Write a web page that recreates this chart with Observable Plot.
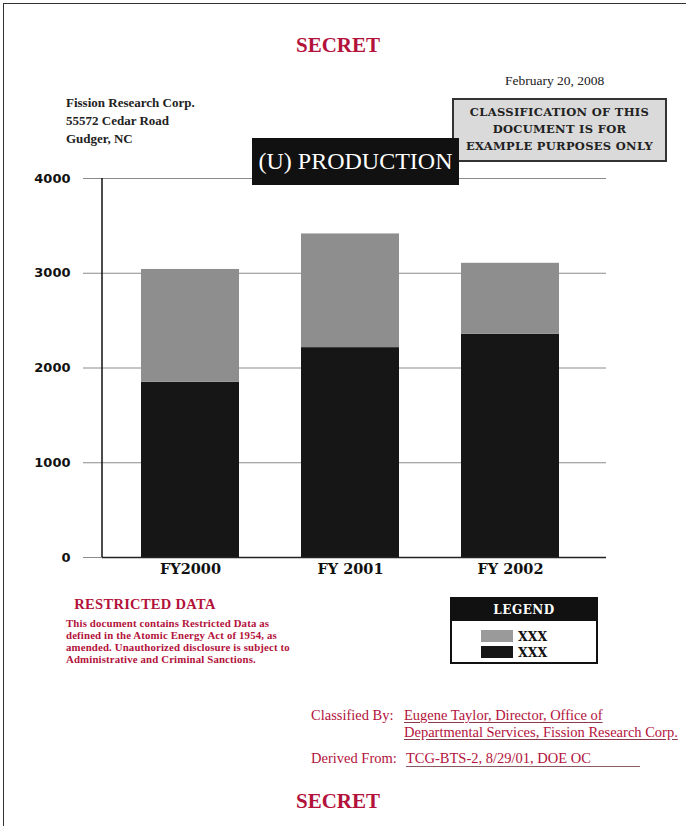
<!DOCTYPE html>
<html>
<head>
<meta charset="utf-8">
<script src="https://cdn.jsdelivr.net/npm/d3@7"></script>
<script src="https://cdn.jsdelivr.net/npm/@observablehq/plot@0.6"></script>
<style>
  html, body { margin: 0; padding: 0; background: #fff; }
  #page { position: relative; width: 686px; height: 826px; overflow: hidden; background: #fff;
          font-family: "Liberation Serif", "Times New Roman", serif; }
  .abs { position: absolute; }
  .red { color: #b3123b; }
  #chart { position: absolute; left: 0; top: 150px; }
  .underline { text-decoration: underline; text-decoration-color: #8a3a4a; text-underline-offset: 2px; }
</style>
</head>
<body>
<div id="page">
  <div class="abs" style="left:3px;top:3px;width:683px;height:0;border-top:1.5px solid #333;"></div>
  <div class="abs" style="left:3px;top:3px;width:0;height:823px;border-left:1.5px solid #333;"></div>

  <div id="chart"></div>

  <div class="abs red" style="left:0;width:676px;top:33px;text-align:center;font-weight:bold;font-size:21px;">SECRET</div>
  <div class="abs" style="left:505px;top:73px;font-size:13.5px;color:#222;">February 20, 2008</div>
  <div class="abs" style="left:66px;top:94px;font-size:13px;font-weight:bold;line-height:18px;color:#222;">Fission Research Corp.<br>55572 Cedar Road<br>Gudger, NC</div>

  <div class="abs" style="left:452px;top:98px;width:211px;height:56px;background:#dadada;border:2px solid #333;
       font-family:'DejaVu Serif',serif;font-weight:bold;font-size:11.5px;line-height:17px;text-align:center;
       padding-top:4px;box-sizing:content-box;color:#222;letter-spacing:0.3px;">
    CLASSIFICATION OF THIS<br>DOCUMENT IS FOR<br>EXAMPLE PURPOSES ONLY</div>

  <div class="abs" style="left:252px;top:138px;width:207px;height:47px;background:#111;color:#fff;
       font-size:24px;line-height:47px;text-align:center;">(U) PRODUCTION</div>

  <div class="abs red" style="left:40px;width:210px;top:596px;text-align:center;font-weight:bold;font-size:14.5px;letter-spacing:0.3px;">RESTRICTED DATA</div>
  <div class="abs red" style="left:66px;top:617px;font-weight:bold;font-size:10.8px;line-height:12px;white-space:nowrap;letter-spacing:0.15px;">
    This document contains Restricted Data as<br>defined in the Atomic Energy Act of 1954, as<br>amended. Unauthorized disclosure is subject to<br>Administrative and Criminal Sanctions.</div>

  <div id="legend" class="abs" style="left:450px;top:597px;width:144px;height:63px;border:2px solid #111;background:#fff;"></div>

  <div class="abs red" style="left:311px;top:707px;font-size:14.5px;line-height:17px;white-space:nowrap;">Classified By:</div>
  <div class="abs red" style="left:404px;top:707px;font-size:14.5px;line-height:17px;white-space:nowrap;">
    <span class="underline">Eugene Taylor, Director, Office of</span><br>
    <span class="underline">Departmental Services, Fission Research Corp.</span></div>
  <div class="abs red" style="left:311px;top:750px;font-size:14.5px;line-height:17px;white-space:nowrap;">Derived From:</div>
  <div class="abs red" style="left:406px;top:750px;font-size:14.5px;line-height:17px;white-space:nowrap;width:234px;border-bottom:1px solid #8a5a64;height:16px;">TCG-BTS-2, 8/29/01, DOE OC</div>

  <div class="abs red" style="left:0;width:676px;top:789px;text-align:center;font-weight:bold;font-size:21px;">SECRET</div>
</div>

<script>
// ---- data ----
const categories = ["FY2000", "FY 2001", "FY 2002"];
const seriesKeys = ["lower", "upper"];
const legendLabels = ["XXX", "XXX"];
const lowerValues = [1850, 2215, 2355];
const upperValues = [1190, 1200, 750];
const yTicks = [0, 1000, 2000, 3000, 4000];
const seriesColors = ["#161616", "#8e8e8e"];

// long table for stacking (lower series first → bottom of stack)
const rows = [];
categories.forEach((c, i) => rows.push({cat: c, series: seriesKeys[0], value: lowerValues[i]}));
categories.forEach((c, i) => rows.push({cat: c, series: seriesKeys[1], value: upperValues[i]}));

function yAxisLine(index, scales, values, dims) {
  const d = [...arguments].find(a => a && typeof a === "object" && "marginLeft" in a);
  const ns = "http://www.w3.org/2000/svg";
  const g = document.createElementNS(ns, "g");
  const l = document.createElementNS(ns, "line");
  l.setAttribute("x1", d.marginLeft);
  l.setAttribute("x2", d.marginLeft);
  l.setAttribute("y1", d.marginTop);
  l.setAttribute("y2", d.height - d.marginBottom);
  l.setAttribute("stroke", "#111");
  l.setAttribute("stroke-width", 1.5);
  g.appendChild(l);
  return g;
}

const chart = Plot.plot({
  width: 686,
  height: 440,
  marginTop: 28,
  marginBottom: 33,
  marginLeft: 102,
  marginRight: 80,
  style: {background: "transparent", overflow: "visible"},
  x: {domain: categories, paddingInner: 0.39, paddingOuter: 0.265, align: 0.45, label: null},
  y: {domain: [0, 4000], label: null},
  color: {domain: seriesKeys, range: seriesColors},
  marks: [
    Plot.ruleY(yTicks, {stroke: "#8a8a8a", strokeWidth: 1, insetLeft: -19}),
    Plot.barY(rows, {x: "cat", y: "value", fill: "series", order: null}),
    Plot.ruleY([0], {stroke: "#222", strokeWidth: 1.5}),
    yAxisLine,
    Plot.axisY({ticks: yTicks, tickSize: 0, tickPadding: 32, tickFormat: d => String(d),
      fontSize: 13, fontWeight: "bold", fontFamily: "DejaVu Sans, sans-serif", fill: "#111", label: null}),
    Plot.axisX({tickSize: 0, tickPadding: 6, fontSize: 14.5, fontWeight: "bold",
      fontFamily: "DejaVu Serif, serif", fill: "#111", label: null})
  ]
});
document.getElementById("chart").appendChild(chart);

// ---- legend (built from series arrays) ----
const legend = document.getElementById("legend");
const head = document.createElement("div");
head.textContent = "LEGEND";
head.style.cssText = "background:#111;color:#fff;height:22px;line-height:23px;text-align:center;font-family:'DejaVu Serif',serif;font-weight:bold;font-size:12px;letter-spacing:0.5px;";
legend.appendChild(head);
const body = document.createElement("div");
body.style.cssText = "padding-top:7px;padding-left:29px;";
[1, 0].forEach(i => {
  const row = document.createElement("div");
  row.style.cssText = "display:flex;align-items:center;height:16px;";
  const sw = document.createElement("span");
  sw.style.cssText = `display:inline-block;width:32px;height:12px;background:${i === 1 ? "#9a9a9a" : seriesColors[i]};margin-right:5px;`;
  const tx = document.createElement("span");
  tx.textContent = legendLabels[i];
  tx.style.cssText = "font-family:'DejaVu Serif',serif;font-weight:bold;font-size:12.5px;color:#111;";
  row.appendChild(sw); row.appendChild(tx);
  body.appendChild(row);
});
legend.appendChild(body);
</script>
</body>
</html>
